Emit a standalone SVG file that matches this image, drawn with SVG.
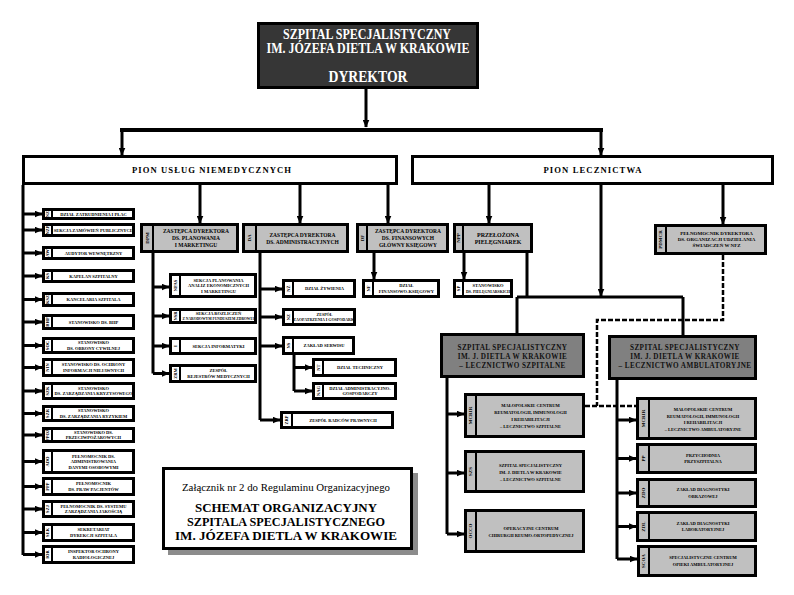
<svg xmlns="http://www.w3.org/2000/svg" width="794" height="595" viewBox="0 0 794 595">
<defs>
<marker id="ah" markerWidth="8" markerHeight="7" refX="7.5" refY="3.5" orient="auto" markerUnits="userSpaceOnUse"><path d="M0,0 L8,3.5 L0,7 z" fill="#000"/></marker>
<style>
.w{fill:#fff;stroke:#000;stroke-width:3}
.g{fill:#c0c0c0;stroke:#000;stroke-width:3}
.m{fill:#808080;stroke:#000;stroke-width:3}
.s{stroke:#000;stroke-width:2}
text{font-family:"Liberation Serif","Times New Roman",serif;font-weight:bold;text-anchor:middle;fill:#000}
.t{font-size:4.5px}
.t5{font-size:5.5px}
.c{font-size:4.5px}
.big{font-size:7.2px;letter-spacing:0.4px;fill:#111}
.pion{font-size:8px;letter-spacing:1px}
.hd{fill:#fff;font-size:14px}
.ln{fill:none;stroke:#000;stroke-width:3}
.ar{fill:none;stroke:#000;stroke-width:3;marker-end:url(#ah)}
.ds{fill:none;stroke:#000;stroke-width:2.5;stroke-dasharray:5 2}
</style>
</defs>
<rect width="794" height="595" fill="#fff"/>

<g id="connectors">
<path class="ar" d="M366,89 V127"/>
<path class="ln" d="M120,130 H603" style="stroke-width:4"/>
<path class="ar" d="M122,130 V155"/>
<path class="ar" d="M601,130 V155"/>
<path class="ar" d="M200,185 V223"/>
<path class="ar" d="M300,185 V223"/>
<path class="ar" d="M388,185 V223"/>
<path class="ar" d="M489,185 V223"/>
<path class="ar" d="M723,185 V224"/>
<path class="ar" d="M601,185 V296"/>
<path class="ln" d="M517,297 H683 M527,253 V297 M517,297 V333 M683,297 V335"/>
<path class="ln" d="M23,185 V555"/>
<path class="ar" d="M23,214 H42"/>
<path class="ar" d="M23,230 H42"/>
<path class="ar" d="M23,253 H42"/>
<path class="ar" d="M23,276 H42"/>
<path class="ar" d="M23,299.5 H42"/>
<path class="ar" d="M23,322 H42"/>
<path class="ar" d="M23,345.5 H42"/>
<path class="ar" d="M23,367.5 H42"/>
<path class="ar" d="M23,391 H42"/>
<path class="ar" d="M23,413.5 H42"/>
<path class="ar" d="M23,435 H42"/>
<path class="ar" d="M23,461.5 H42"/>
<path class="ar" d="M23,486.5 H42"/>
<path class="ar" d="M23,509 H42"/>
<path class="ar" d="M23,532.5 H42"/>
<path class="ar" d="M23,554.5 H42"/>
<path class="ln" d="M153,253 V373.5"/>
<path class="ar" d="M153,287 H169"/>
<path class="ar" d="M153,316 H169"/>
<path class="ar" d="M153,346 H169"/>
<path class="ar" d="M153,373.5 H169"/>
<path class="ln" d="M260,253 V420"/>
<path class="ar" d="M260,289 H282"/>
<path class="ar" d="M260,317 H282"/>
<path class="ar" d="M260,346 H282"/>
<path class="ar" d="M260,420 H280"/>
<path class="ln" d="M294,355 V391"/>
<path class="ar" d="M294,367.5 H312"/>
<path class="ar" d="M294,391 H312"/>
<path class="ar" d="M374,253 V279"/>
<path class="ar" d="M464,253 V279"/>
<path class="ln" d="M447,378 V534"/>
<path class="ar" d="M447,414 H464"/>
<path class="ar" d="M447,473 H464"/>
<path class="ar" d="M447,534 H464"/>
<path class="ln" d="M617,380 V559"/>
<path class="ar" d="M617,420 H636"/>
<path class="ar" d="M617,458.5 H636"/>
<path class="ar" d="M617,493 H636"/>
<path class="ar" d="M617,526.5 H636"/>
<path class="ar" d="M617,559 H637"/>
<path class="ds" d="M723,255 V320 H597 V406"/>
<path class="ds" d="M585,406 H636"/>
</g>

<g id="dyrektor">
<rect x="258.5" y="23.5" width="219" height="64" fill="#363636" stroke="#000" stroke-width="3"/>
<text class="hd" x="367" y="39" textLength="168" lengthAdjust="spacingAndGlyphs">SZPITAL SPECJALISTYCZNY</text>
<text class="hd" x="368" y="53" textLength="203" lengthAdjust="spacingAndGlyphs">IM. JÓZEFA DIETLA W KRAKOWIE</text>
<text class="hd" x="368" y="82" style="font-size:16px" textLength="79" lengthAdjust="spacingAndGlyphs">DYREKTOR</text>
</g>

<g id="pion-uslug">
<rect class="w" x="23.5" y="156.5" width="373" height="27"/>
<text class="pion" x="212" y="173" textLength="160" lengthAdjust="spacingAndGlyphs">PION  USŁUG NIEMEDYCZNYCH</text>
</g>
<g id="pion-lecznictwa">
<rect class="w" x="412.5" y="156.5" width="360" height="27"/>
<text class="pion" x="593" y="173" textLength="99" lengthAdjust="spacingAndGlyphs">PION LECZNICTWA</text>
</g>

<g id="n1"><rect class="w" x="43.5" y="209.5" width="90" height="9"/><line class="s" x1="52" y1="208" x2="52" y2="220"/><text class="c" transform="translate(49.4,214) rotate(-90)">NZ</text><text class="t" x="93.5" y="215.6">DZIAŁ ZATRUDNIENIA I PŁAC</text></g>
<g id="n2"><rect class="w" x="43.5" y="224.5" width="90" height="11"/><line class="s" x1="52" y1="223" x2="52" y2="237"/><text class="c" transform="translate(49.4,230) rotate(-90)">NZP</text><text class="t" x="93.5" y="231.6">SEKCJA ZAMÓWIEŃ PUBLICZNYCH</text></g>
<g id="n3"><rect class="w" x="43.5" y="247.5" width="90" height="11"/><line class="s" x1="52" y1="246" x2="52" y2="260"/><text class="c" transform="translate(49.4,253) rotate(-90)">AW</text><text class="t" x="93.5" y="254.6">AUDYTOR WEWNĘTRZNY</text></g>
<g id="n4"><rect class="w" x="43.5" y="270.5" width="90" height="11"/><line class="s" x1="52" y1="269" x2="52" y2="283"/><text class="c" transform="translate(49.4,276) rotate(-90)">KS</text><text class="t" x="93.5" y="277.6">KAPELAN SZPITALNY</text></g>
<g id="n5"><rect class="w" x="43.5" y="293.5" width="90" height="12"/><line class="s" x1="52" y1="292" x2="52" y2="307"/><text class="c" transform="translate(49.4,299.5) rotate(-90)">KSZ</text><text class="t" x="93.5" y="301.1">KANCELARIA  SZPITALA</text></g>
<g id="n6"><rect class="w" x="43.5" y="315.5" width="90" height="13"/><line class="s" x1="52" y1="314" x2="52" y2="330"/><text class="c" transform="translate(49.4,322) rotate(-90)">BHP</text><text class="t" x="93.5" y="323.6">STANOWISKO DS. BHP</text></g>
<g id="n7"><rect class="w" x="43.5" y="338.5" width="90" height="14"/><line class="s" x1="52" y1="337" x2="52" y2="354"/><text class="c" transform="translate(49.4,345.5) rotate(-90)">SOC</text><text class="t" x="93.5" y="344.3">STANOWISKO</text><text class="t" x="93.5" y="349.7">DS. OBRONY CYWILNEJ</text></g>
<g id="n8"><rect class="w" x="43.5" y="359.5" width="90" height="16"/><line class="s" x1="52" y1="358" x2="52" y2="377"/><text class="c" transform="translate(49.4,367.5) rotate(-90)">NIN</text><text class="t" x="93.5" y="366.3">STANOWISKO DS. OCHRONY</text><text class="t" x="93.5" y="371.7">INFORMACJI NIEJAWNYCH</text></g>
<g id="n9"><rect class="w" x="43.5" y="383.5" width="90" height="15"/><line class="s" x1="52" y1="382" x2="52" y2="400"/><text class="c" transform="translate(49.4,391) rotate(-90)">SZK</text><text class="t" x="93.5" y="389.8">STANOWISKO</text><text class="t" x="93.5" y="395.2" textLength="78" lengthAdjust="spacingAndGlyphs">DS. ZARZĄDZANIA KRYZYSOWEGO</text></g>
<g id="n10"><rect class="w" x="43.5" y="406.5" width="90" height="14"/><line class="s" x1="52" y1="405" x2="52" y2="422"/><text class="c" transform="translate(49.4,413.5) rotate(-90)">SZR</text><text class="t" x="93.5" y="412.3">STANOWISKO</text><text class="t" x="93.5" y="417.7">DS. ZARZĄDZANIA RYZYKIEM</text></g>
<g id="n11"><rect class="w" x="43.5" y="428.5" width="90" height="13"/><line class="s" x1="52" y1="427" x2="52" y2="443"/><text class="c" transform="translate(49.4,435) rotate(-90)">PPOŻ</text><text class="t" x="93.5" y="433.8">STANOWISKO DS.</text><text class="t" x="93.5" y="439.2">PRZECIWPOŻAROWYCH</text></g>
<g id="n12"><rect class="w" x="43.5" y="450.5" width="90" height="22"/><line class="s" x1="52" y1="449" x2="52" y2="474"/><text class="c" transform="translate(49.4,461.5) rotate(-90)">ADO</text><text class="t" x="93.5" y="457.6">PEŁNOMOCNIK DS.</text><text class="t" x="93.5" y="463.1">ADMINISTROWANIA</text><text class="t" x="93.5" y="468.6">DANYMI OSOBOWYMI</text></g>
<g id="n13"><rect class="w" x="43.5" y="478.5" width="90" height="16"/><line class="s" x1="52" y1="477" x2="52" y2="496"/><text class="c" transform="translate(49.4,486.5) rotate(-90)">PPP</text><text class="t" x="93.5" y="485.3">PEŁNOMOCNIK</text><text class="t" x="93.5" y="490.7">DS. PRAW PACJENTÓW</text></g>
<g id="n14"><rect class="w" x="43.5" y="501.5" width="90" height="15"/><line class="s" x1="52" y1="500" x2="52" y2="518"/><text class="c" transform="translate(49.4,509) rotate(-90)">SZJ</text><text class="t" x="93.5" y="507.8">PEŁNOMOCNIK DS. SYSTEMU</text><text class="t" x="93.5" y="513.2">ZARZĄDZANIA JAKOŚCIĄ</text></g>
<g id="n15"><rect class="w" x="43.5" y="524.5" width="90" height="16"/><line class="s" x1="52" y1="523" x2="52" y2="542"/><text class="c" transform="translate(49.4,532.5) rotate(-90)">SEK</text><text class="t" x="93.5" y="531.3">SEKRETARIAT</text><text class="t" x="93.5" y="536.7">DYREKCJI SZPITALA</text></g>
<g id="n16"><rect class="w" x="43.5" y="546.5" width="90" height="16"/><line class="s" x1="52" y1="545" x2="52" y2="564"/><text class="c" transform="translate(49.4,554.5) rotate(-90)">IOR</text><text class="t" x="93.5" y="553.3">INSPEKTOR OCHRONY</text><text class="t" x="93.5" y="558.7">RADIOLOGICZNEJ</text></g>

<g id="dpm"><rect class="g" x="141.5" y="224.5" width="96" height="27"/><line class="s" x1="153" y1="223" x2="153" y2="253"/><text class="c" style="font-size:5px" transform="translate(148.7,238) rotate(-90)">DPM</text><text class="t5" x="196" y="233">ZASTĘPCA DYREKTORA</text><text class="t5" x="196" y="240">DS. PLANOWANIA</text><text class="t5" x="196" y="247">I MARKETINGU</text></g>
<g id="da"><rect class="g" x="243.5" y="224.5" width="104" height="27"/><line class="s" x1="256" y1="223" x2="256" y2="253"/><text class="c" style="font-size:5px" transform="translate(251,238) rotate(-90)">DA</text><text class="t5" x="302.5" y="236.5">ZASTĘPCA DYREKTORA</text><text class="t5" x="302.5" y="243.5">DS. ADMINISTRACYJNYCH</text></g>
<g id="df"><rect class="g" x="357.5" y="224.5" width="90" height="27"/><line class="s" x1="367" y1="223" x2="367" y2="253"/><text class="c" style="font-size:5px" transform="translate(363.5,238) rotate(-90)">DF</text><text class="t5" x="408" y="233">ZASTĘPCA DYREKTORA</text><text class="t5" x="408" y="240">DS. FINANSOWYCH</text><text class="t5" x="408" y="247">GŁÓWNY KSIĘGOWY</text></g>
<g id="npp"><rect class="g" x="454.5" y="224.5" width="77" height="27"/><line class="s" x1="463" y1="223" x2="463" y2="253"/><text class="c" style="font-size:5px" transform="translate(460,238) rotate(-90)">NPP</text><text class="t5" x="498" y="236.5" style="font-size:6px">PRZEŁOŻONA</text><text class="t5" x="498" y="244" style="font-size:6px">PIELĘGNIAREK</text></g>
<g id="pdm"><rect class="g" x="655.5" y="225.5" width="110" height="28"/><line class="s" x1="666" y1="224" x2="666" y2="255"/><text class="c" style="font-size:5px" transform="translate(662,239.5) rotate(-90)">PDMCR</text><text class="t" x="716.5" y="235.3" style="font-size:5px">PEŁNOMOCNIK DYREKTORA</text><text class="t" x="716.5" y="241.3" style="font-size:5px">DS. ORGANIZACJI UDZIELANIA</text><text class="t" x="716.5" y="247.3" style="font-size:5px">ŚWIADCZEŃ W NFZ</text></g>

<g id="b1"><rect class="w" x="170.5" y="274.5" width="85" height="22"/><line class="s" x1="180" y1="273" x2="180" y2="298"/><text class="c" transform="translate(176.6,285.5) rotate(-90)">NPAS</text><text class="t" x="218.5" y="281.6">SEKCJA PLANOWANIA</text><text class="t" x="218.5" y="287.1">ANALIZ EKONOMICZNYCH</text><text class="t" x="218.5" y="292.6">I MARKETINGU</text></g>
<g id="b2"><rect class="w" x="170.5" y="309.5" width="85" height="13"/><line class="s" x1="180" y1="308" x2="180" y2="324"/><text class="c" transform="translate(176.6,316) rotate(-90)">NSR</text><text class="t" x="218.5" y="314.8">SEKCJA ROZLICZEŃ</text><text class="t" x="218.5" y="320.2" textLength="72" lengthAdjust="spacingAndGlyphs">Z NARODOWYM FUNDUSZEM ZDROWIA</text></g>
<g id="b3"><rect class="w" x="170.5" y="338.5" width="85" height="15"/><line class="s" x1="180" y1="337" x2="180" y2="355"/><text class="c" transform="translate(176.6,346) rotate(-90)">I</text><text class="t" x="218.5" y="347.6">SEKCJA INFORMATYKI</text></g>
<g id="b4"><rect class="w" x="170.5" y="365.5" width="85" height="16"/><line class="s" x1="180" y1="364" x2="180" y2="383"/><text class="c" transform="translate(176.6,373.5) rotate(-90)">ZRM</text><text class="t" x="218.5" y="372.3">ZESPÓŁ</text><text class="t" x="218.5" y="377.7">REJESTRÓW MEDYCZNYCH</text></g>

<g id="c1"><rect class="w" x="283.5" y="280.5" width="71" height="16"/><line class="s" x1="293" y1="279" x2="293" y2="298"/><text class="c" transform="translate(289.6,288.5) rotate(-90)">NŻ</text><text class="t" x="324.5" y="290.1">DZIAŁ ŻYWIENIA</text></g>
<g id="c2"><rect class="w" x="283.5" y="309.5" width="71" height="15"/><line class="s" x1="293" y1="308" x2="293" y2="326"/><text class="c" transform="translate(289.6,317) rotate(-90)">NZ</text><text class="t" x="324.5" y="315.8" style="font-size:4px">ZESPÓŁ</text><text class="t" x="324.5" y="321.2" style="font-size:4px">ZAOPATRZENIA I GOSPODARKI</text></g>
<g id="c3"><rect class="w" x="283.5" y="337.5" width="70" height="16"/><line class="s" x1="293" y1="336" x2="293" y2="355"/><text class="c" transform="translate(289.6,345.5) rotate(-90)">NS</text><text class="t" x="324" y="347.1">ZAKŁAD  SERWISU</text></g>
<g id="d1"><rect class="w" x="313.5" y="359.5" width="82" height="16"/><line class="s" x1="323" y1="358" x2="323" y2="377"/><text class="c" transform="translate(319.6,367.5) rotate(-90)">NT</text><text class="t" x="360" y="369.1">DZIAŁ TECHNICZNY</text></g>
<g id="d2"><rect class="w" x="313.5" y="383.5" width="82" height="15"/><line class="s" x1="323" y1="382" x2="323" y2="400"/><text class="c" transform="translate(319.6,391) rotate(-90)">NAG</text><text class="t" x="360" y="389.8">DZIAŁ ADMINISTRACYJNO-</text><text class="t" x="360" y="395.2">GOSPODARCZY</text></g>
<g id="c4"><rect class="w" x="281.5" y="412.5" width="111" height="15"/><line class="s" x1="292" y1="411" x2="292" y2="429"/><text class="c" transform="translate(288.4,420) rotate(-90)">ZRP</text><text class="t" x="343" y="421.6">ZESPÓŁ RADCÓW PRAWNYCH</text></g>
<g id="df1"><rect class="w" x="363.5" y="280.5" width="75" height="16"/><line class="s" x1="373" y1="279" x2="373" y2="298"/><text class="c" transform="translate(369.6,288.5) rotate(-90)">NF</text><text class="t" x="406.5" y="287.3">DZIAŁ</text><text class="t" x="406.5" y="292.7">FINANSOWO-KSIĘGOWY</text></g>
<g id="npp1"><rect class="w" x="454.5" y="280.5" width="57" height="16"/><line class="s" x1="463" y1="279" x2="463" y2="298"/><text class="c" transform="translate(460,288.5) rotate(-90)">SP</text><text class="t" x="488" y="287.3">STANOWISKO</text><text class="t" x="488" y="292.7" textLength="44" lengthAdjust="spacingAndGlyphs">DS. PIELĘGNIARSKICH</text></g>

<g id="szpitalne"><rect class="m" x="441.5" y="334.5" width="142" height="42"/><text class="big" x="512.5" y="349.5">SZPITAL SPECJALISTYCZNY</text><text class="big" x="512.5" y="358.5">IM. J. DIETLA W KRAKOWIE</text><text class="big" x="512.5" y="367.5">– LECZNICTWO SZPITALNE</text></g>
<g id="ambulatoryjne"><rect class="m" x="609.5" y="336.5" width="146" height="42"/><text class="big" x="685" y="350">SZPITAL SPECJALISTYCZNY</text><text class="big" x="685" y="359">IM. J. DIETLA W KRAKOWIE</text><text class="big" x="685" y="368">– LECZNICTWO AMBULATORYJNE</text></g>

<g id="e1"><rect class="g" x="465.5" y="394.5" width="118" height="42"/><line class="s" x1="476" y1="393" x2="476" y2="438"/><text class="c" style="font-size:5px" transform="translate(471.8,415.5) rotate(-90)">MCRIR</text><text class="t" x="530.5" y="407">MAŁOPOLSKIE CENTRUM</text><text class="t" x="530.5" y="414">REUMATOLOGII, IMMUNOLOGII</text><text class="t" x="530.5" y="421">I REHABILITACJI</text><text class="t" x="530.5" y="428">– LECZNICTWO SZPITALNE</text></g>
<g id="e2"><rect class="g" x="465.5" y="451.5" width="118" height="40"/><line class="s" x1="476" y1="450" x2="476" y2="493"/><text class="c" style="font-size:5px" transform="translate(471.8,471.5) rotate(-90)">SZS</text><text class="t" x="530.5" y="467">SZPITAL SPECJALISTYCZNY</text><text class="t" x="530.5" y="474">IM. J. DIETLA W KRAKOWIE</text><text class="t" x="530.5" y="481">– LECZNICTWO SZPITALNE</text></g>
<g id="e3"><rect class="g" x="465.5" y="510.5" width="118" height="41"/><line class="s" x1="476" y1="509" x2="476" y2="553"/><text class="c" style="font-size:5px" transform="translate(471.8,531) rotate(-90)">OCCO</text><text class="t" x="531" y="530">OPERACYJNE CENTRUM</text><text class="t" x="531" y="537">CHIRURGII REUMO-ORTOPEDYCZNEJ</text></g>

<g id="f1"><rect class="g" x="637.5" y="398.5" width="118" height="40"/><line class="s" x1="649" y1="397" x2="649" y2="440"/><text class="c" style="font-size:5px" transform="translate(644.5,418.5) rotate(-90)">MCRIR</text><text class="t" x="703" y="411">MAŁOPOLSKIE CENTRUM</text><text class="t" x="703" y="417.5">REUMATOLOGII, IMMUNOLOGII</text><text class="t" x="703" y="424">I REHABILITACJI</text><text class="t" x="703" y="430.5">– LECZNICTWO AMBULATORYJNE</text></g>
<g id="f2"><rect class="g" x="637.5" y="444.5" width="118" height="28"/><line class="s" x1="649" y1="443" x2="649" y2="474"/><text class="c" style="font-size:5px" transform="translate(644.5,458.5) rotate(-90)">PP</text><text class="t" x="703" y="456.5">PRZYCHODNIA</text><text class="t" x="703" y="463">PRZYSZPITALNA</text></g>
<g id="f3"><rect class="g" x="637.5" y="479.5" width="118" height="27"/><line class="s" x1="649" y1="478" x2="649" y2="508"/><text class="c" style="font-size:5px" transform="translate(644.5,493) rotate(-90)">ZDO</text><text class="t" x="703" y="491">ZAKŁAD DIAGNOSTYKI</text><text class="t" x="703" y="497.5">OBRAZOWEJ</text></g>
<g id="f4"><rect class="g" x="637.5" y="512.5" width="118" height="28"/><line class="s" x1="649" y1="511" x2="649" y2="542"/><text class="c" style="font-size:5px" transform="translate(644.5,526.5) rotate(-90)">ZDL</text><text class="t" x="703" y="524.5">ZAKŁAD DIAGNOSTYKI</text><text class="t" x="703" y="531">LABORATORYJNEJ</text></g>
<g id="f5"><rect class="g" x="638.5" y="546.5" width="117" height="29"/><line class="s" x1="649" y1="545" x2="649" y2="577"/><text class="c" style="font-size:5px" transform="translate(644.8,561) rotate(-90)">SCOA</text><text class="t" x="703" y="559">SPECJALISTYCZNE CENTRUM</text><text class="t" x="703" y="565.5">OPIEKI AMBULATORYJNEJ</text></g>

<g id="caption">
<rect x="168" y="473" width="250" height="82" fill="#8c8c8c"/>
<rect class="w" x="163.5" y="468.5" width="248" height="80"/>
<text x="286" y="491" style="font-weight:normal;font-size:10.5px" textLength="208" lengthAdjust="spacingAndGlyphs">Załącznik nr 2 do Regulaminu Organizacyjnego</text>
<text x="286" y="512" style="font-size:13px" textLength="182" lengthAdjust="spacingAndGlyphs">SCHEMAT ORGANIZACYJNY</text>
<text x="286" y="526" style="font-size:13px" textLength="198" lengthAdjust="spacingAndGlyphs">SZPITALA SPECJALISTYCZNEGO</text>
<text x="286" y="540" style="font-size:13px" textLength="222" lengthAdjust="spacingAndGlyphs">IM. JÓZEFA DIETLA W KRAKOWIE</text>
</g>
</svg>
